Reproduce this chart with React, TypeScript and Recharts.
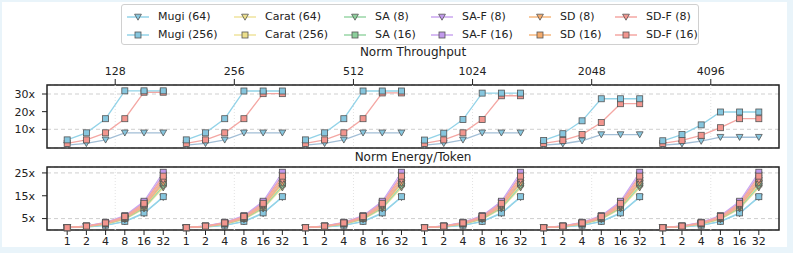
import React from 'react'
import { LineChart, Line, XAxis, YAxis, CartesianGrid, ReferenceLine, ReferenceArea } from 'recharts'

const seqLens = ['128', '256', '512', '1024', '2048', '4096']
const batchSizes = ['1', '2', '4', '8', '16', '32']
const GROUP_STEP = 6.2

// throughput per sequence length group (batch 1..32)
const thrMugi64 = [
  [1, 2, 4, 8, 8, 8],
  [1, 2, 4, 8, 8, 8],
  [1, 2, 4, 8, 8, 8],
  [1, 2, 4, 8, 8, 8],
  [1, 1.8, 3.5, 7, 7, 7],
  [1, 1.8, 3.3, 5.5, 5.5, 5.5],
]
const thrMugi256 = [
  [4, 8, 16, 31.8, 31.8, 31.8],
  [4, 8, 16, 31.7, 31.7, 31.7],
  [4, 8, 16, 31.7, 31.7, 31.7],
  [3.9, 7.8, 15.5, 30.5, 30.5, 30.5],
  [3.7, 7.5, 14.8, 27.3, 27.3, 27.3],
  [3.5, 7, 12.5, 19.8, 19.8, 19.8],
]
const thrSdf16 = [
  [2, 4, 8, 16, 31, 31],
  [2, 4, 8, 16, 30.2, 30.2],
  [2, 4, 8, 16, 30.6, 30.6],
  [2, 4, 8, 15.5, 29, 29],
  [2, 3.7, 7, 13.8, 24.5, 24.5],
  [2, 3.7, 6.6, 10.9, 16, 16],
]

// energy per token (same shape for every sequence length)
const energyMugi64 = [1, 1.3, 2.0, 3.6, 7.2, 14.3]
const energyMugi256 = [1, 1.35, 2.1, 3.8, 7.5, 14.6]
const energyCarat64 = [1, 1.45, 2.5, 4.6, 9.3, 18.5]
const energyCarat256 = [1, 1.55, 2.7, 5.0, 10.0, 20.2]
const energySa8 = [1, 1.5, 2.6, 4.8, 9.6, 19.2]
const energySa16 = [1, 1.6, 2.8, 5.3, 10.6, 21.0]
const energySaf8 = [1, 1.75, 3.2, 6.0, 12.0, 24.2]
const energySaf16 = [1, 1.8, 3.4, 6.3, 12.6, 25.3]
const energySd8 = [1, 1.55, 2.7, 5.1, 10.2, 20.5]
const energySd16 = [1, 1.65, 3.0, 5.6, 11.3, 22.6]
const energySdf8 = [1, 1.6, 2.9, 5.4, 10.8, 21.8]
const energySdf16 = [1, 1.7, 3.1, 5.9, 11.7, 23.6]

const thrTicks = [10, 20, 30]
const energyTicks = [5, 15, 25]

type Shape = 'v' | 's'
type SeriesDef = { key: string; name: string; color: string; fill: string; shape: Shape; energy: number[] }

const SERIES: SeriesDef[] = [
  { key: 'mugi64', name: 'Mugi (64)', color: '#93d3e8', fill: '#86c6de', shape: 'v', energy: energyMugi64 },
  { key: 'mugi256', name: 'Mugi (256)', color: '#93d3e8', fill: '#86c6de', shape: 's', energy: energyMugi256 },
  { key: 'carat64', name: 'Carat (64)', color: '#efe39c', fill: '#ecdf8c', shape: 'v', energy: energyCarat64 },
  { key: 'carat256', name: 'Carat (256)', color: '#efe39c', fill: '#ecdf8c', shape: 's', energy: energyCarat256 },
  { key: 'sa8', name: 'SA (8)', color: '#98d6a6', fill: '#8ccf9b', shape: 'v', energy: energySa8 },
  { key: 'sa16', name: 'SA (16)', color: '#98d6a6', fill: '#8ccf9b', shape: 's', energy: energySa16 },
  { key: 'saf8', name: 'SA-F (8)', color: '#caa6ef', fill: '#c199ec', shape: 'v', energy: energySaf8 },
  { key: 'saf16', name: 'SA-F (16)', color: '#caa6ef', fill: '#c199ec', shape: 's', energy: energySaf16 },
  { key: 'sd8', name: 'SD (8)', color: '#f6b77e', fill: '#f4ab6c', shape: 'v', energy: energySd8 },
  { key: 'sd16', name: 'SD (16)', color: '#f6b77e', fill: '#f4ab6c', shape: 's', energy: energySd16 },
  { key: 'sdf8', name: 'SD-F (8)', color: '#f4a7a3', fill: '#f2958e', shape: 'v', energy: energySdf8 },
  { key: 'sdf16', name: 'SD-F (16)', color: '#f4a7a3', fill: '#f2958e', shape: 's', energy: energySdf16 },
]

const THR_SERIES = [
  { key: 'mugi64', color: '#a2bed6', fill: '#86c6de', shape: 'v' as Shape, values: thrMugi64 },
  { key: 'sdf16', color: '#f4a7a3', fill: '#f2958e', shape: 's' as Shape, values: thrSdf16 },
  { key: 'mugi256', color: '#93d3e8', fill: '#86c6de', shape: 's' as Shape, values: thrMugi256 },
]

function buildRows(series: { key: string; values: number[][] }[]) {
  const rows: Record<string, number>[] = []
  seqLens.forEach((_, g) => {
    batchSizes.forEach((_, i) => {
      const row: Record<string, number> = { x: g * GROUP_STEP + i }
      series.forEach((s) => {
        row[s.key] = s.values[g][i]
      })
      rows.push(row)
    })
    // empty row so lines break between groups
    if (g < seqLens.length - 1) rows.push({ x: g * GROUP_STEP + 5.6 })
  })
  return rows
}

const thrRows = buildRows(THR_SERIES)
const energyRows = buildRows(SERIES.map((s) => ({ key: s.key, values: seqLens.map(() => s.energy) })))

const groupCenters = seqLens.map((_, g) => g * GROUP_STEP + 2.5)
const pointTicks = seqLens.flatMap((_, g) => batchSizes.map((_, i) => g * GROUP_STEP + i))
const X_DOMAIN: [number, number] = [-1.05, 5 * GROUP_STEP + 5 + 1.05]

const FONT = "'DejaVu Sans', sans-serif"
const tickStyle = { fontSize: 11, fill: '#222', fontFamily: FONT }

function markerPath(shape: Shape, cx: number, cy: number, fill: string, key?: React.Key) {
  if (shape === 'v') {
    return (
      <path
        key={key}
        d={`M${cx - 3.4},${cy - 2.8} L${cx + 3.4},${cy - 2.8} L${cx},${cy + 3.2} Z`}
        fill={fill}
        stroke="#555"
        strokeWidth={0.8}
      />
    )
  }
  return <rect key={key} x={cx - 3} y={cy - 3} width={6} height={6} fill={fill} stroke="#555" strokeWidth={0.8} />
}

function dotFor(shape: Shape, fill: string) {
  return (p: any) => {
    if (p.cx == null || p.cy == null || p.value == null) return <g key={p.key ?? p.index} />
    return markerPath(shape, p.cx, p.cy, fill, p.key ?? p.index)
  }
}

function Legend() {
  const textX = [157, 264, 374, 461, 559, 645]
  const rowY = [16, 34]
  return (
    <div
      style={{
        position: 'absolute',
        left: 121,
        top: 4,
        width: 578,
        height: 41,
        border: '1px solid #d0d0d0',
        borderRadius: 3,
        boxSizing: 'border-box',
      }}
    >
      {SERIES.map((s, idx) => {
        const col = Math.floor(idx / 2)
        const row = idx % 2
        const left = textX[col] - 121
        const cy = rowY[row] - 4
        return (
          <div key={s.key}>
            <svg style={{ position: 'absolute', left: left - 32, top: cy - 6 }} width={24} height={12}>
              <line x1={1} y1={6} x2={23} y2={6} stroke={s.color} strokeWidth={1.5} />
              {markerPath(s.shape, 12, 6, s.fill)}
            </svg>
            <span
              style={{
                position: 'absolute',
                left,
                top: cy - 7,
                fontSize: 11,
                lineHeight: '14px',
                color: '#222',
                whiteSpace: 'nowrap',
              }}
            >
              {s.name}
            </span>
          </div>
        )
      })}
    </div>
  )
}

export default function App() {
  return (
    <div
      style={{
        position: 'fixed',
        left: 0,
        top: 0,
        width: 793,
        height: 253,
        background: '#e9f4fa',
        fontFamily: FONT,
      }}
    >
      <div style={{ position: 'absolute', left: 2, top: 2, width: 785, height: 245, background: '#fff' }} />

      <div style={{ position: 'absolute', left: 0, top: 0 }}>
        <LineChart width={793} height={160} data={thrRows} margin={{ top: 65, right: 14, bottom: 12, left: 7 }}>
          <CartesianGrid vertical={false} stroke="#cfcfcf" strokeDasharray="4 3" />
          {groupCenters.map((c) => (
            <ReferenceLine key={c} x={c} stroke="#e2e2e2" strokeDasharray="1 2" />
          ))}
          <XAxis
            type="number"
            dataKey="x"
            orientation="top"
            domain={X_DOMAIN}
            ticks={groupCenters}
            interval={0}
            height={20}
            tickFormatter={(v: number, i: number) => seqLens[i]}
            tick={tickStyle}
            tickSize={6}
            tickMargin={4}
            axisLine={false}
            tickLine={{ stroke: '#222' }}
          />
          <YAxis
            domain={[-0.6, 35.1]}
            ticks={thrTicks}
            width={40}
            tickFormatter={(v: number) => `${v}x`}
            tick={tickStyle}
            tickSize={5}
            tickMargin={7}
            axisLine={false}
            tickLine={{ stroke: '#222' }}
          />
          <ReferenceArea x1={X_DOMAIN[0]} x2={X_DOMAIN[1]} y1={-0.6} y2={35.1} fill="none" stroke="#222" strokeWidth={1.5} />
          {THR_SERIES.map((s) => (
            <Line
              key={s.key}
              dataKey={s.key}
              stroke={s.color}
              strokeWidth={1.3}
              dot={dotFor(s.shape, s.fill)}
              activeDot={false}
              isAnimationActive={false}
              type="linear"
            />
          ))}
        </LineChart>
      </div>

      <div style={{ position: 'absolute', left: 0, top: 150 }}>
        <LineChart width={793} height={103} data={energyRows} margin={{ top: 17, right: 14, bottom: 3, left: 7 }}>
          <CartesianGrid vertical={false} stroke="#cfcfcf" strokeDasharray="4 3" />
          {groupCenters.map((c) => (
            <ReferenceLine key={c} x={c} stroke="#e2e2e2" strokeDasharray="1 2" />
          ))}
          <XAxis
            type="number"
            dataKey="x"
            domain={X_DOMAIN}
            ticks={pointTicks}
            interval={0}
            height={20}
            tickFormatter={(v: number, i: number) => batchSizes[i % batchSizes.length]}
            tick={tickStyle}
            tickSize={5}
            tickMargin={2}
            axisLine={false}
            tickLine={{ stroke: '#222' }}
          />
          <YAxis
            domain={[0, 27.6]}
            ticks={energyTicks}
            width={40}
            tickFormatter={(v: number) => `${v}x`}
            tick={tickStyle}
            tickSize={5}
            tickMargin={7}
            axisLine={false}
            tickLine={{ stroke: '#222' }}
          />
          <ReferenceArea x1={X_DOMAIN[0]} x2={X_DOMAIN[1]} y1={0} y2={27.6} fill="none" stroke="#222" strokeWidth={1.5} />
          {SERIES.map((s) => (
            <Line
              key={s.key}
              dataKey={s.key}
              stroke={s.color}
              strokeWidth={1.2}
              dot={dotFor(s.shape, s.fill)}
              activeDot={false}
              isAnimationActive={false}
              type="linear"
            />
          ))}
        </LineChart>
      </div>

      <Legend />
      <div style={{ position: 'absolute', left: 47, top: 45, width: 732, textAlign: 'center', fontSize: 12, color: '#222' }}>
        Norm Throughput
      </div>
      <div style={{ position: 'absolute', left: 47, top: 150, width: 732, textAlign: 'center', fontSize: 12, color: '#222' }}>
        Norm Energy/Token
      </div>
    </div>
  )
}
